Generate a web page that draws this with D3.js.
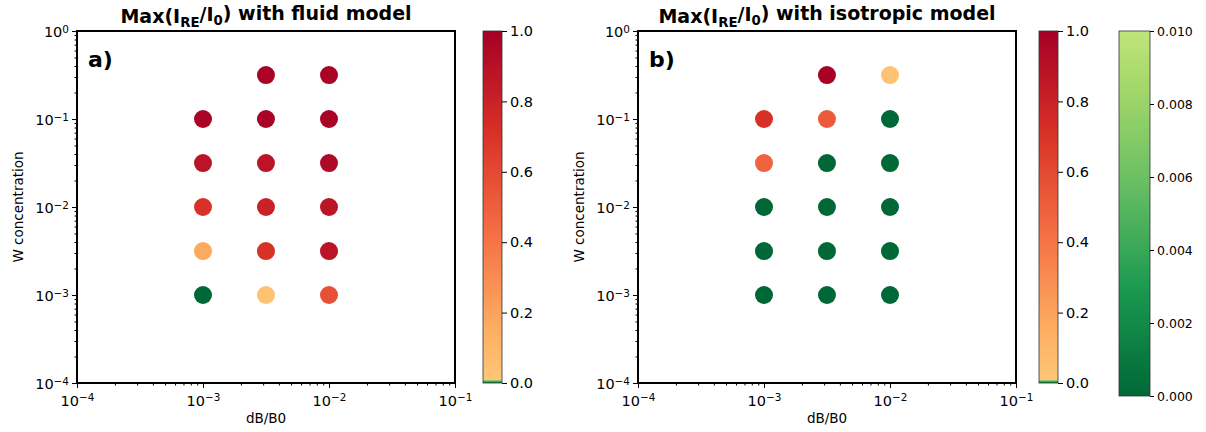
<!DOCTYPE html>
<html><head><meta charset="utf-8">
<script src="https://cdn.jsdelivr.net/npm/d3@7"></script>
<style>
body{margin:0;background:#fff;}
text{font-family:"DejaVu Sans",sans-serif;fill:#000;}
</style></head>
<body><svg id="chart" width="1206" height="432"></svg>
<script>
// ---------- data ----------
const dBValues = [1e-3, 3.16e-3, 1e-2];
const wValues = [1e-3, 3.16e-3, 1e-2, 3.16e-2, 1e-1, 3.16e-1];
// rows follow wValues, columns follow dBValues (null = no run)
const fluidMax = [
  [0.0, 0.03, 0.57],
  [0.17, 0.71, 0.88],
  [0.71, 0.80, 0.88],
  [0.88, 0.88, 0.95],
  [0.98, 0.98, 0.98],
  [null, 0.98, 0.98]
];
const isoMax = [
  [0.0, 0.0, 0.0],
  [0.0, 0.0, 0.0],
  [0.0, 0.0, 0.0],
  [0.48, 0.0, 0.0],
  [0.72, 0.52, 0.0],
  [null, 0.99, 0.03]
];
const titles = ["fluid model", "isotropic model"];
const panelLabels = ["a)", "b)"];
const axisTicks = [1e-4, 1e-3, 1e-2, 1e-1, 1e0];
const cbarTicks = [0, 0.2, 0.4, 0.6, 0.8, 1.0];
const greenTicks = [0, 0.002, 0.004, 0.006, 0.008, 0.010];

// ---------- colormap (RdYlGn, split) ----------
const rdylgn = ["#a50026","#d73027","#f46d43","#fdae61","#fee08b","#ffffbf","#d9ef8b","#a6d96a","#66bd63","#1a9850","#006837"];
const cm = d3.scaleLinear().domain(d3.range(11).map(i => i / 10)).range(rdylgn).interpolate(d3.interpolateRgb).clamp(true);
function colorOf(v) {
  if (v <= 0.01) return cm(1 - (v / 0.01) * 0.35);
  return cm(0.35 - ((v - 0.01) / 0.99) * 0.35);
}
function greenOf(v) { return cm(1 - (v / 0.01) * 0.35); }

const svg = d3.select("#chart");
const defs = svg.append("defs");
const FS = 14.5;   // tick labels
const LS = 13.5;   // axis labels

const yTop = 31, yBot = 383;
const panels = [
  {x0: 77, x1: 455, cb: 483, data: fluidMax},
  {x0: 638, x1: 1016, cb: 1039, data: isoMax}
];

function supLabel(sel, d) {
  const e = Math.round(Math.log10(d));
  sel.text("");
  sel.append("tspan").text("10");
  sel.append("tspan").attr("dy", "-0.45em").attr("font-size", "0.72em").text(e === 0 ? "0" : "\u2212" + Math.abs(e));
}

function minorTicks() {
  const m = [];
  for (let e = -4; e < 0; e++) for (let k = 2; k <= 9; k++) m.push(k * Math.pow(10, e));
  return m;
}

panels.forEach((p, i) => {
  const x = d3.scaleLog().domain([1e-4, 1e-1]).range([p.x0, p.x1]);
  const y = d3.scaleLog().domain([1e-4, 1e0]).range([yBot, yTop]);
  const g = svg.append("g");

  // points
  const pts = [];
  wValues.forEach((w, r) => dBValues.forEach((b, c) => {
    const v = p.data[r][c];
    if (v !== null) pts.push({b, w, v});
  }));
  g.selectAll("circle").data(pts).join("circle")
    .attr("cx", d => x(d.b)).attr("cy", d => y(d.w)).attr("r", 9)
    .attr("fill", d => colorOf(d.v));

  // axes
  const xAx = g.append("g").attr("transform", `translate(0,${yBot})`)
    .call(d3.axisBottom(x).tickValues(axisTicks.filter(t => t <= 1e-1)).tickSize(5).tickPadding(3));
  const xMin = g.append("g").attr("transform", `translate(0,${yBot})`)
    .call(d3.axisBottom(x).tickValues(minorTicks().filter(t => t < 1e-1)).tickSize(2.5).tickFormat(""));
  const yAx = g.append("g").attr("transform", `translate(${p.x0},0)`)
    .call(d3.axisLeft(y).tickValues(axisTicks).tickSize(5).tickPadding(3));
  const yMin = g.append("g").attr("transform", `translate(${p.x0},0)`)
    .call(d3.axisLeft(y).tickValues(minorTicks()).tickSize(2.5).tickFormat(""));
  [xAx, xMin, yAx, yMin].forEach(a => {
    a.select(".domain").remove();
    a.selectAll("line").attr("stroke", "#000").attr("stroke-width", 1);
    a.selectAll("text").attr("font-size", FS).attr("font-family", "DejaVu Sans").attr("fill", "#000");
  });
  xAx.selectAll(".tick text").each(function(d){ supLabel(d3.select(this), d); });
  yAx.selectAll(".tick text").each(function(d){ supLabel(d3.select(this), d); });
  yAx.selectAll(".tick text").attr("dy", "0.4em");
  xAx.selectAll(".tick text").attr("dy", "1.0em");

  g.append("rect").attr("x", p.x0).attr("y", yTop).attr("width", p.x1 - p.x0).attr("height", yBot - yTop)
    .attr("fill", "none").attr("stroke", "#000").attr("stroke-width", 2);

  // labels
  g.append("text").attr("x", (p.x0 + p.x1) / 2).attr("y", 423).attr("text-anchor", "middle")
    .attr("font-size", LS).text("dB/B0");
  g.append("text").attr("transform", `translate(${p.x0 - 54},${(yTop + yBot) / 2}) rotate(-90)`)
    .attr("text-anchor", "middle").attr("font-size", LS).text("W concentration");
  g.append("text").attr("x", p.x0 + 11).attr("y", 67).attr("font-size", 22).attr("font-weight", "bold")
    .text(panelLabels[i]);

  const t = g.append("text").attr("x", (p.x0 + p.x1) / 2).attr("y", 23).attr("text-anchor", "middle")
    .attr("font-size", 19).attr("font-weight", "bold");
  t.append("tspan").text("Max(I");
  t.append("tspan").attr("dy", "0.3em").attr("font-size", "0.7em").text("RE");
  t.append("tspan").attr("dy", "-0.3em").text("/I");
  t.append("tspan").attr("dy", "0.3em").attr("font-size", "0.7em").text("0");
  t.append("tspan").attr("dy", "-0.3em").text(") with " + titles[i]);

  // colorbar
  const gid = "grad" + i;
  const grad = defs.append("linearGradient").attr("id", gid).attr("x1", 0).attr("y1", 1).attr("x2", 0).attr("y2", 0);
  d3.range(0, 1.0001, 0.0025).forEach(v => grad.append("stop").attr("offset", v).attr("stop-color", colorOf(v)));
  const cy = d3.scaleLinear().domain([0, 1]).range([yBot, yTop]);
  const cw = 19;
  g.append("rect").attr("x", p.cb).attr("y", yTop).attr("width", cw).attr("height", yBot - yTop)
    .attr("fill", `url(#${gid})`).attr("stroke", "#333").attr("stroke-width", 0.8);
  const cax = g.append("g").attr("transform", `translate(${p.cb + cw},0)`)
    .call(d3.axisRight(cy).tickValues(cbarTicks).tickFormat(d3.format(".1f")).tickSize(5).tickPadding(3));
  cax.select(".domain").remove();
  cax.selectAll("line").attr("stroke", "#000").attr("stroke-width", 1);
  cax.selectAll("text").attr("font-size", FS).attr("font-family", "DejaVu Sans").attr("fill", "#000");
});

// third (green) colorbar
{
  const gtop = 31, gbot = 396, gx = 1119, gw = 31;
  const grad = defs.append("linearGradient").attr("id", "gradG").attr("x1", 0).attr("y1", 1).attr("x2", 0).attr("y2", 0);
  d3.range(0, 1.0001, 0.01).forEach(f => grad.append("stop").attr("offset", f).attr("stop-color", greenOf(f * 0.01)));
  svg.append("rect").attr("x", gx).attr("y", gtop).attr("width", gw).attr("height", gbot - gtop)
    .attr("fill", "url(#gradG)").attr("stroke", "#333").attr("stroke-width", 0.8);
  const gy = d3.scaleLinear().domain([0, 0.01]).range([gbot, gtop]);
  const ax = svg.append("g").attr("transform", `translate(${gx + gw},0)`)
    .call(d3.axisRight(gy).tickValues(greenTicks).tickFormat(d3.format(".3f")).tickSize(4).tickPadding(3));
  ax.select(".domain").remove();
  ax.selectAll("line").attr("stroke", "#000").attr("stroke-width", 1);
  ax.selectAll("text").attr("font-size", 12.5).attr("font-family", "DejaVu Sans").attr("fill", "#000");
}
</script></body></html>
